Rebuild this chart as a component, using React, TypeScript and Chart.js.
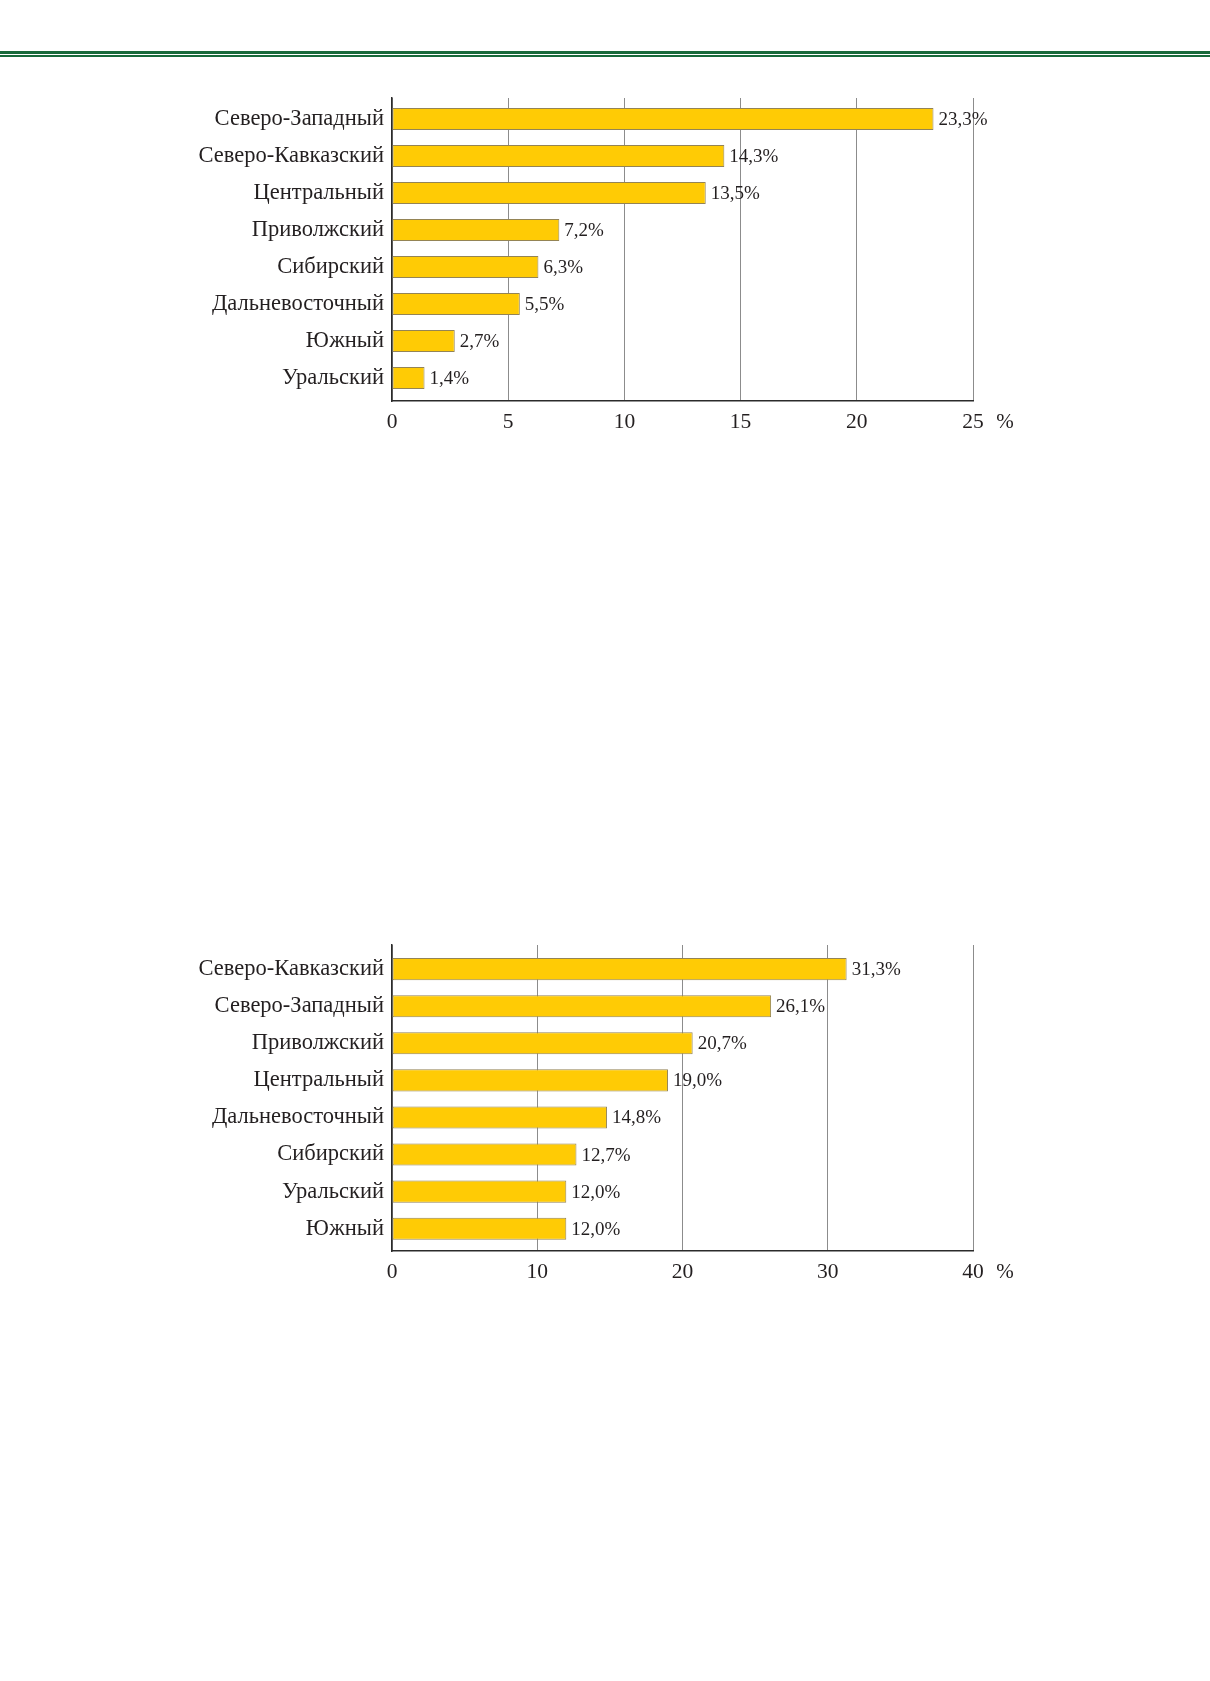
import { useEffect, useRef } from 'react'
import { Chart, registerables } from 'chart.js'

Chart.register(...registerables)

const SERIF = '"Liberation Serif", "Times New Roman", serif'
const INK = '#231f20'

// first chart
const regionsA = [
  'Северо-Западный',
  'Северо-Кавказский',
  'Центральный',
  'Приволжский',
  'Сибирский',
  'Дальневосточный',
  'Южный',
  'Уральский',
]
const sharesA = [23.3, 14.3, 13.5, 7.2, 6.3, 5.5, 2.7, 1.4]
const ticksA = [0, 5, 10, 15, 20, 25]

// second chart
const regionsB = [
  'Северо-Кавказский',
  'Северо-Западный',
  'Приволжский',
  'Центральный',
  'Дальневосточный',
  'Сибирский',
  'Уральский',
  'Южный',
]
const sharesB = [31.3, 26.1, 20.7, 19.0, 14.8, 12.7, 12.0, 12.0]
const ticksB = [0, 10, 20, 30, 40]

const fmt = (v: number) => v.toFixed(1).replace('.', ',') + '%'

const valueLabels = {
  id: 'valueLabels',
  afterDatasetsDraw(chart: any) {
    const { ctx } = chart
    const meta = chart.getDatasetMeta(0)
    ctx.save()
    ctx.font = '19px ' + SERIF
    ctx.fillStyle = INK
    ctx.textAlign = 'left'
    ctx.textBaseline = 'middle'
    meta.data.forEach((bar: any, i: number) => {
      const v = chart.data.datasets[0].data[i].x
      ctx.fillText(fmt(v), bar.x + 5, bar.y + 1)
    })
    ctx.restore()
  },
}

const percentSign = {
  id: 'percentSign',
  afterDraw(chart: any) {
    const { ctx } = chart
    const xs = chart.scales.x
    ctx.save()
    ctx.font = '21px ' + SERIF
    ctx.fillStyle = INK
    ctx.textAlign = 'center'
    ctx.textBaseline = 'middle'
    ctx.fillText('%', xs.right + 32, xs.top + 21)
    ctx.restore()
  },
}

type Props = {
  labels: string[]
  values: number[]
  ticks: number[]
  top: number
  idxMin: number
  idxMax: number
  padTop: number
}

function HBar({ labels, values, ticks, top, idxMin, idxMax, padTop }: Props) {
  const canvasRef = useRef<HTMLCanvasElement>(null)

  useEffect(() => {
    if (!canvasRef.current) return
    const chart = new Chart(canvasRef.current, {
      type: 'bar',
      data: {
        datasets: [
          {
            data: values.map((v, i) => ({ x: v, y: i })),
            backgroundColor: '#ffcb05',
            borderColor: '#948455',
            borderWidth: 1,
            borderSkipped: false,
            categoryPercentage: 1,
            barPercentage: 0.595,
          },
        ],
      },
      options: {
        indexAxis: 'y',
        responsive: false,
        animation: false,
        layout: { padding: { top: padTop, right: 237, left: 0, bottom: 0 } },
        plugins: { legend: { display: false }, tooltip: { enabled: false } },
        scales: {
          x: {
            type: 'linear',
            min: ticks[0],
            max: ticks[ticks.length - 1],
            afterBuildTicks: (s: any) => {
              s.ticks = ticks.map((v) => ({ value: v }))
            },
            afterFit: (s: any) => {
              s.height = 59
            },
            grid: { color: '#8c8c8c', lineWidth: 1, drawTicks: false },
            border: { color: '#2b2b2b', width: 1.5 },
            ticks: { font: { size: 21.5, family: SERIF }, color: INK, padding: 8 },
          },
          y: {
            type: 'linear',
            reverse: true,
            offset: false,
            min: idxMin,
            max: idxMax,
            afterBuildTicks: (s: any) => {
              s.ticks = labels.map((_, i) => ({ value: i }))
            },
            afterFit: (s: any) => {
              s.width = 392
            },
            grid: { display: false, drawTicks: false, offset: false },
            border: { color: '#2b2b2b', width: 1.5 },
            ticks: {
              autoSkip: false,
              font: { size: 22.5, family: SERIF },
              color: INK,
              padding: 8,
              callback: (v: any) => labels[v] ?? '',
            },
          },
        },
      },
      plugins: [valueLabels, percentSign],
    })
    return () => chart.destroy()
  }, [labels, values, ticks, idxMin, idxMax, padTop])

  return (
    <canvas
      ref={canvasRef}
      width={1210}
      height={400}
      style={{ position: 'absolute', left: 0, top, width: 1210, height: 400 }}
    />
  )
}

export default function App() {
  return (
    <div style={{ position: 'absolute', left: 0, top: 0, width: 1210, height: 1681, background: '#fff' }}>
      <div style={{ position: 'absolute', left: 0, top: 51, width: 1210, height: 3, background: '#17693a' }} />
      <div style={{ position: 'absolute', left: 0, top: 55, width: 1210, height: 1.5, background: '#17693a' }} />
      <HBar labels={regionsA} values={sharesA} ticks={ticksA} top={60} idxMin={-0.57} idxMax={7.62} padTop={38} />
      <HBar labels={regionsB} values={sharesB} ticks={ticksB} top={910} idxMin={-0.65} idxMax={7.6} padTop={35} />
    </div>
  )
}
